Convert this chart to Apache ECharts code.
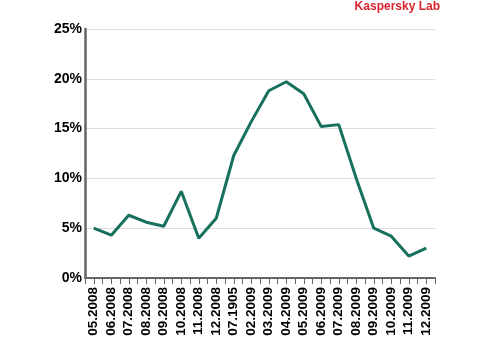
<!DOCTYPE html>
<html>
<head>
<meta charset="utf-8">
<script src="https://cdn.jsdelivr.net/npm/echarts@6/dist/echarts.min.js"></script>
<style>html,body{margin:0;padding:0;background:#fff;}#c{width:490px;height:350px;}</style>
</head>
<body>
<div id="c"></div>
<script>
var categories = ['05.2008','06.2008','07.2008','08.2008','09.2008','10.2008','11.2008','12.2008','07.1905','02.2009','03.2009','04.2009','05.2009','06.2009','07.2009','08.2009','09.2009','10.2009','11.2009','12.2009'];
var values = [5.0,4.3,6.3,5.6,5.2,8.7,4.0,6.0,12.3,15.7,18.8,19.7,18.5,15.2,15.4,10.0,5.0,4.2,2.2,3.0];
var yTicks = [0,5,10,15,20,25];

var chart = echarts.init(document.getElementById('c'));
chart.setOption({
  animation: false,
  title: {
    text: 'Kaspersky Lab',
    right: 50, top: 1, padding: 0,
    textStyle: {color: '#d9232e', fontSize: 12, fontWeight: 'bold', fontFamily: 'Liberation Sans'}
  },
  grid: {left: 85, right: 55, top: 29, bottom: 72},
  xAxis: {
    type: 'value', min: -0.5, max: categories.length - 0.5, interval: 0.5,
    axisLine: {show: true, onZero: false, lineStyle: {color: '#666', width: 2}},
    axisTick: {show: true, length: 6, lineStyle: {color: '#666', width: 1}},
    splitLine: {show: false},
    axisLabel: {
      rotate: 90, margin: 9, color: '#000', fontWeight: 'bold', fontSize: 13.5,
      fontFamily: 'Liberation Sans', showMinLabel: true, showMaxLabel: true, hideOverlap: false,
      formatter: function (v) {
        var i = Math.round(v);
        return (Math.abs(v - i) < 1e-6 && categories[i]) ? categories[i] : '';
      }
    }
  },
  yAxis: {
    type: 'value', min: yTicks[0], max: yTicks[yTicks.length - 1], interval: 5,
    axisLine: {show: true, onZero: false, lineStyle: {color: '#666', width: 2.5}},
    axisTick: {show: false},
    splitLine: {show: true, lineStyle: {color: '#ddd', width: 1}},
    axisLabel: {
      color: '#000', fontWeight: 'bold', fontSize: 14, fontFamily: 'Liberation Sans', margin: 3,
      formatter: function (v) { return v + '%'; }
    }
  },
  series: [{
    type: 'line',
    data: values.map(function (v, i) { return [i, v]; }),
    symbol: 'none',
    lineStyle: {color: '#17705c', width: 3},
    z: 3
  }]
});
</script>
</body>
</html>
